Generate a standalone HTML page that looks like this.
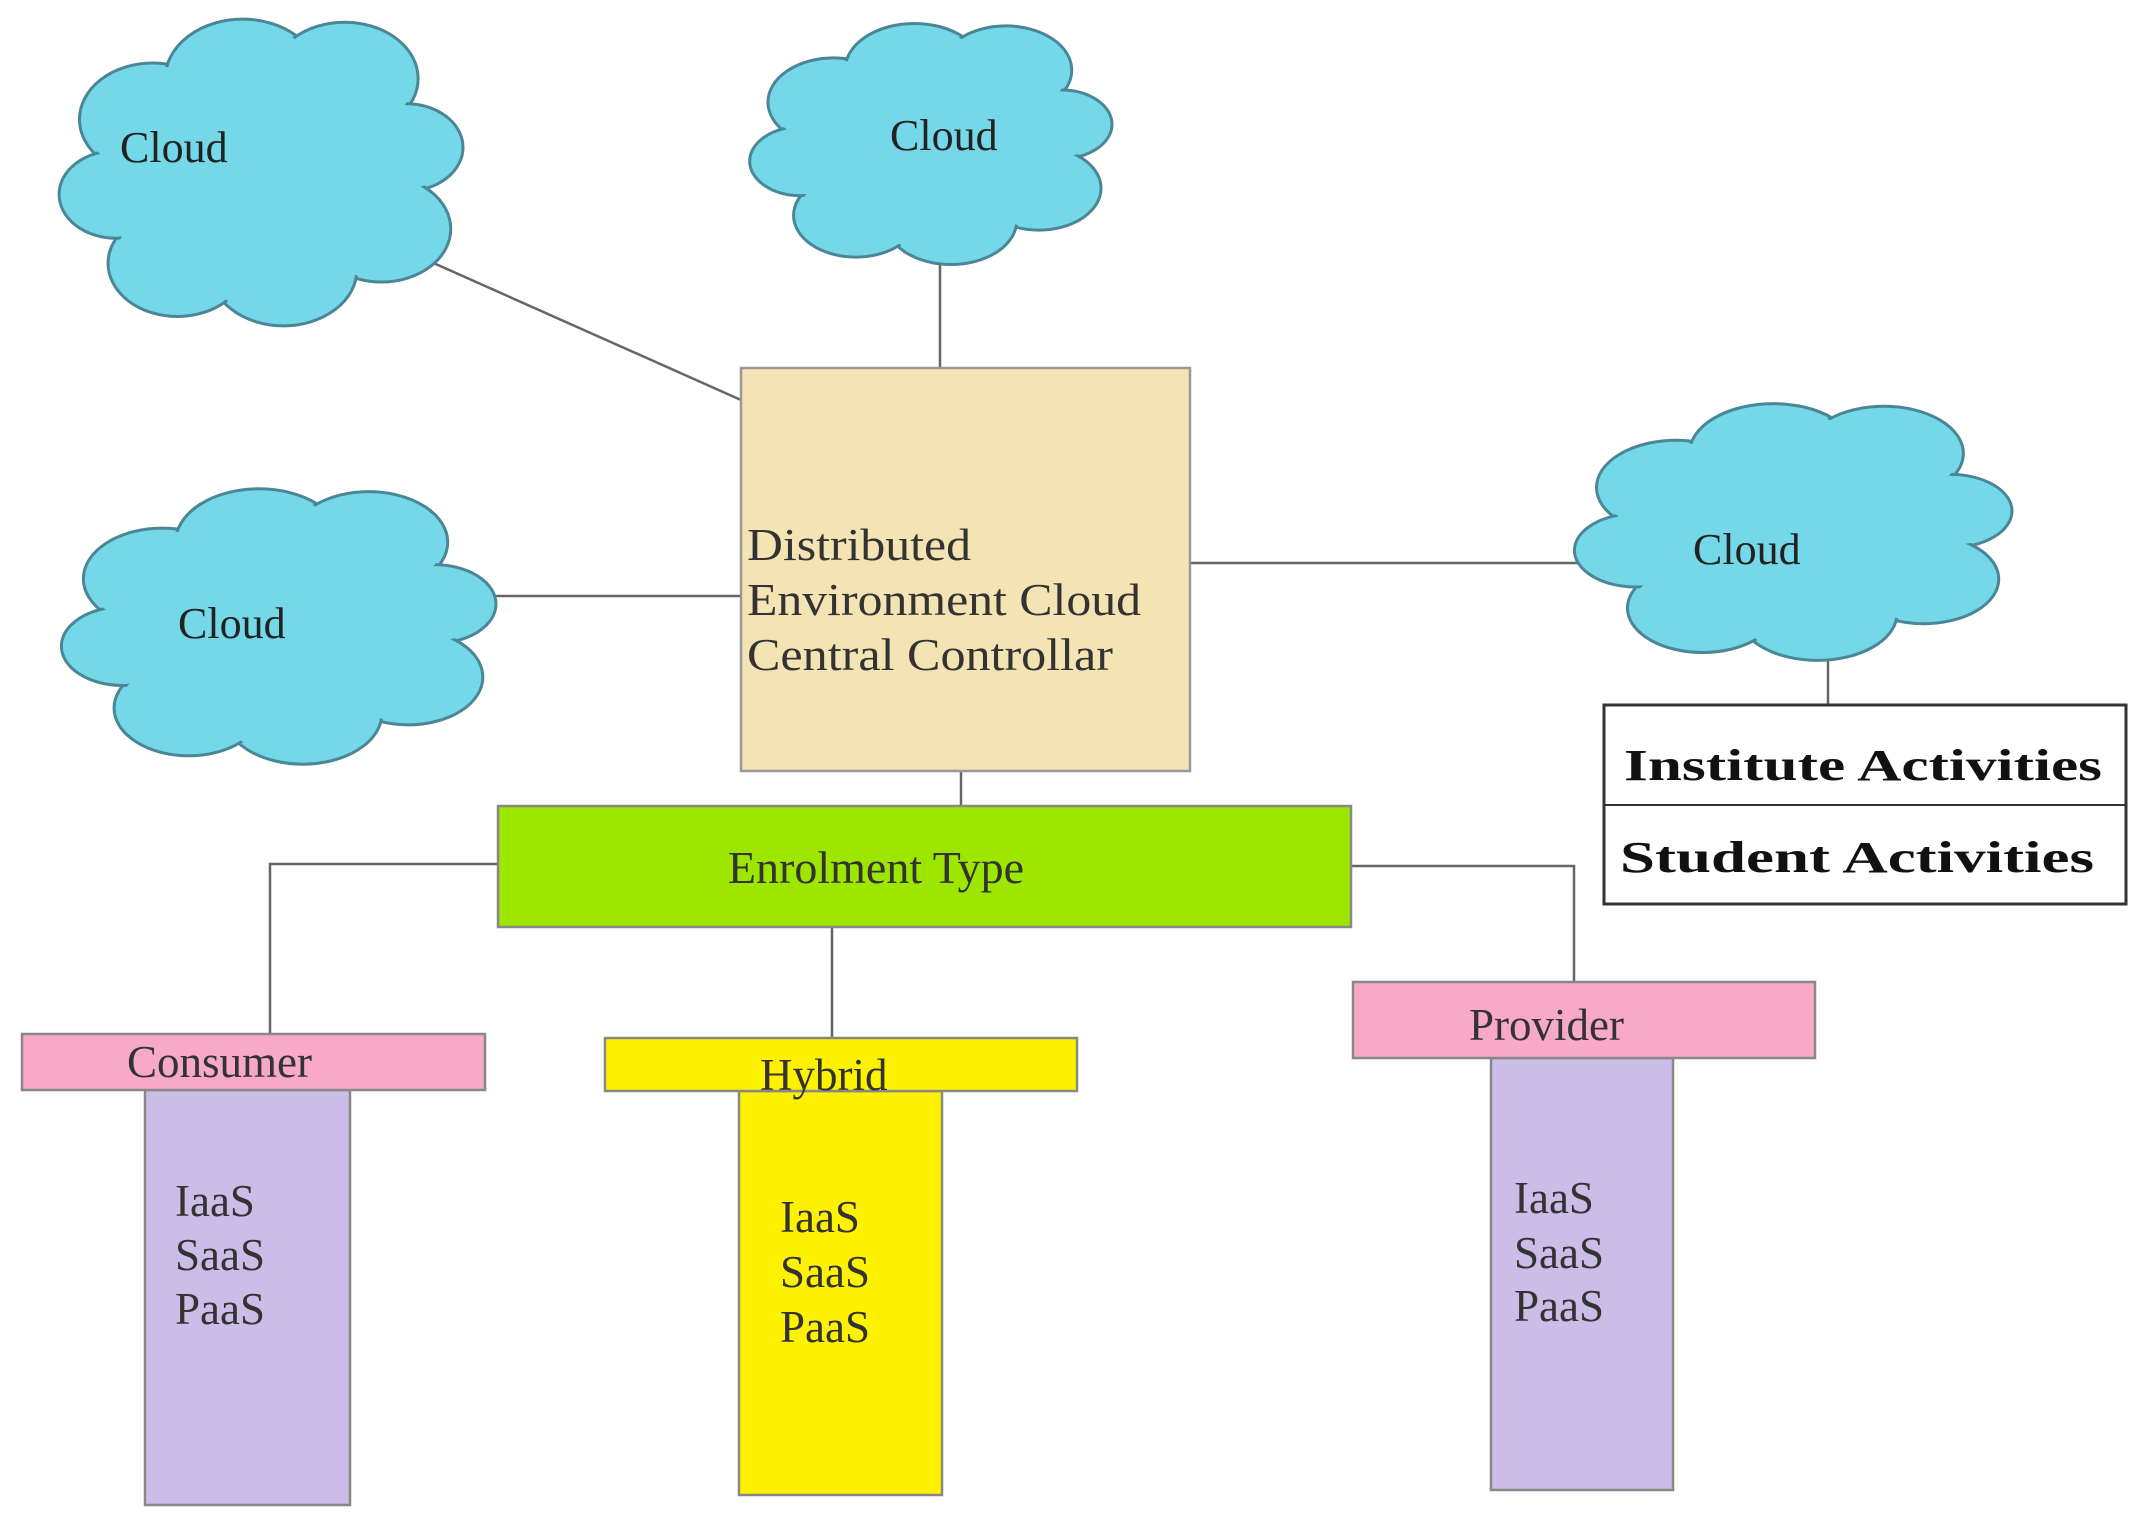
<!DOCTYPE html>
<html><head><meta charset="utf-8"><style>html,body{margin:0;padding:0;background:#fff}svg{display:block}</style></head>
<body>
<svg width="2135" height="1532" viewBox="0 0 2135 1532" xmlns="http://www.w3.org/2000/svg" font-family="'Liberation Serif', serif">
<defs>
<g id="cl">
<g stroke="#4a8696" stroke-width="3" fill="#74d8e8">
<circle cx="24" cy="33" r="18" vector-effect="non-scaling-stroke"/><circle cx="46" cy="20" r="19" vector-effect="non-scaling-stroke"/><circle cx="71" cy="20" r="18" vector-effect="non-scaling-stroke"/><circle cx="86" cy="42" r="14" vector-effect="non-scaling-stroke"/><circle cx="80" cy="68" r="17" vector-effect="non-scaling-stroke"/><circle cx="56" cy="81" r="18" vector-effect="non-scaling-stroke"/><circle cx="30" cy="79" r="17" vector-effect="non-scaling-stroke"/><circle cx="15" cy="57" r="14" vector-effect="non-scaling-stroke"/>
</g>
<g fill="#74d8e8">
<circle cx="24" cy="33" r="17"/><circle cx="46" cy="20" r="18"/><circle cx="71" cy="20" r="17"/><circle cx="86" cy="42" r="13"/><circle cx="80" cy="68" r="16"/><circle cx="56" cy="81" r="17"/><circle cx="30" cy="79" r="16"/><circle cx="15" cy="57" r="13"/><circle cx="50" cy="50" r="32"/>
</g>
</g>
</defs>
<g stroke="#666" stroke-width="2.5" fill="none">
<line x1="411" y1="253" x2="741" y2="400"/>
<line x1="940" y1="260" x2="940" y2="368"/>
<line x1="490" y1="596" x2="741" y2="596"/>
<line x1="1190" y1="563" x2="1590" y2="563"/>
<line x1="1828" y1="655" x2="1828" y2="705"/>
<line x1="961" y1="771" x2="961" y2="806"/>
<polyline points="498,864 270,864 270,1034"/>
<line x1="832" y1="927" x2="832" y2="1038"/>
<polyline points="1351,866 1574,866 1574,982"/>
</g>
<use href="#cl" transform="translate(55,16) scale(4.08,3.13)"/>
<use href="#cl" transform="translate(746,21) scale(3.66,2.46)"/>
<use href="#cl" transform="translate(57,486) scale(4.39,2.81)"/>
<use href="#cl" transform="translate(1570,401) scale(4.42,2.62)"/>
<g font-size="44" fill="#222">
<text x="120" y="162">Cloud</text>
<text x="890" y="150">Cloud</text>
<text x="178" y="638">Cloud</text>
<text x="1693" y="564">Cloud</text>
</g>
<rect x="741" y="368" width="449" height="403" fill="#f4e4b4" stroke="#999" stroke-width="2.5"/>
<g font-size="46" fill="#333">
<text x="747" y="560" textLength="224" lengthAdjust="spacingAndGlyphs">Distributed</text>
<text x="747" y="615" textLength="394" lengthAdjust="spacingAndGlyphs">Environment Cloud</text>
<text x="747" y="670" textLength="366" lengthAdjust="spacingAndGlyphs">Central Controllar</text>
</g>
<rect x="498" y="806" width="853" height="121" fill="#9de600" stroke="#888" stroke-width="2.5"/>
<text x="876" y="883" font-size="46" fill="#333" text-anchor="middle">Enrolment Type</text>
<rect x="145" y="1090" width="205" height="415" fill="#cbbde8" stroke="#888" stroke-width="2.5"/>
<rect x="22" y="1034" width="463" height="56" fill="#f9a9c8" stroke="#888" stroke-width="2.5"/>
<rect x="739" y="1091" width="203" height="404" fill="#fff200" stroke="#888" stroke-width="2.5"/>
<rect x="605" y="1038" width="472" height="53" fill="#fff200" stroke="#888" stroke-width="2.5"/>
<rect x="1491" y="1058" width="182" height="432" fill="#cbbde8" stroke="#888" stroke-width="2.5"/>
<rect x="1353" y="982" width="462" height="76" fill="#f9a9c8" stroke="#888" stroke-width="2.5"/>
<g font-size="45" fill="#333">
<text x="127" y="1077">Consumer</text>
<text x="760" y="1090">Hybrid</text>
<text x="1469" y="1040">Provider</text>
<text x="175" y="1216">IaaS</text><text x="175" y="1270">SaaS</text><text x="175" y="1324">PaaS</text>
<text x="780" y="1232">IaaS</text><text x="780" y="1287">SaaS</text><text x="780" y="1342">PaaS</text>
<text x="1514" y="1213">IaaS</text><text x="1514" y="1268">SaaS</text><text x="1514" y="1321">PaaS</text>
</g>
<rect x="1604" y="705" width="522" height="199" fill="#fff" stroke="#333" stroke-width="3"/>
<line x1="1604" y1="805" x2="2126" y2="805" stroke="#333" stroke-width="2"/>
<g font-size="44" font-weight="bold" fill="#111">
<text x="1624" y="780" textLength="478" lengthAdjust="spacingAndGlyphs">Institute Activities</text>
<text x="1620" y="872" textLength="474" lengthAdjust="spacingAndGlyphs">Student Activities</text>
</g>
</svg>
</body></html>
